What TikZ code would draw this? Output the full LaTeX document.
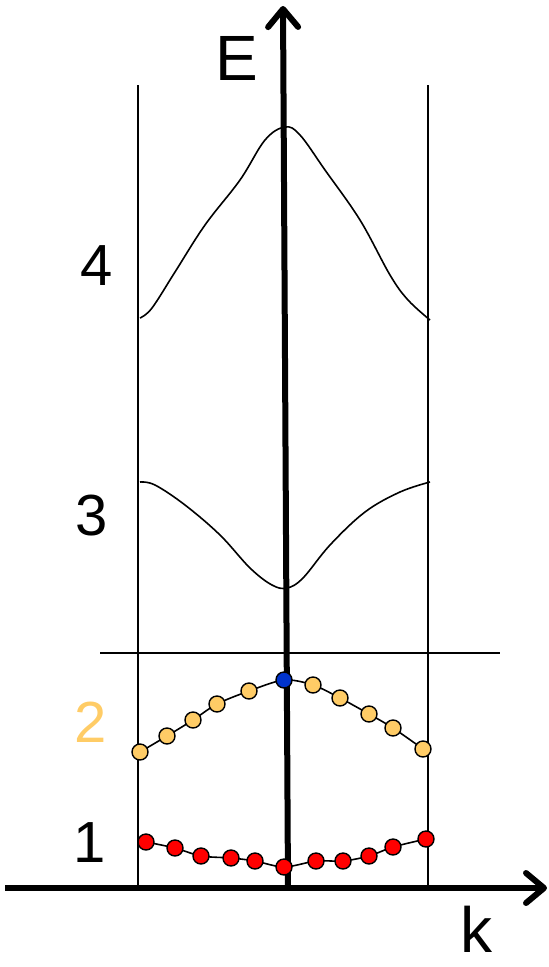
\documentclass[tikz,border=0pt]{standalone}
\usepackage{fontspec}
\setmainfont{Liberation Sans}
\usetikzlibrary{arrows.meta}

\definecolor{bandorange}{RGB}{255,204,102}
\definecolor{bandred}{RGB}{255,0,0}
\definecolor{bandblue}{RGB}{0,51,204}

\tikzset{
	axis/.style={line width=6pt, -{Straight Barb[length=18pt,width=30pt,line cap=round,line join=round]}},
	zone/.style={line width=1.6pt},
	band/.style={line width=1.6pt},
	state/.style={circle, draw=black, line width=1.4pt, fill=#1, minimum size=16pt, inner sep=0pt},
	bandlabel/.style={font=\fontsize{58}{60}\selectfont, inner sep=0pt, anchor=base},
	axislabel/.style={font=\fontsize{64}{70}\selectfont, inner sep=0pt, anchor=base}
}

\begin{document}
\begin{tikzpicture}[x=1pt,y=-1pt]
	\useasboundingbox (0,0) rectangle (549,967);
	
	% Brillouin zone edges and gap line
	\draw[zone] (138,85) -- (138,888);
	\draw[zone] (428,85) -- (428,888);
	\draw[zone] (100,653) -- (500,653);
	
	% upper bands
	\draw[band] plot[smooth, tension=0.6] coordinates {(140,318) (152,308) (175,272) (205,225) (240,180) (265,140) (285,127) (300,135) (325,170) (360,220) (390,275) (408,300) (430,320)};
	\draw[band] plot[smooth, tension=0.6] coordinates {(140,482) (155,485) (185,505) (220,535) (250,568) (272,585) (287,588) (303,578) (330,545) (365,512) (400,492) (430,482)};
	
	% axes
	\coordinate (korigin) at (5,888);
	\coordinate (kend) at (547,888);
	\coordinate (Eorigin) at (288,888);
	\coordinate (Eend) at (283,6);
	\draw[axis] (korigin) -- (kend);
	\draw[axis] (Eorigin) -- (Eend);
	\node[axislabel] (Elabel) at (237,80) {E};
	\node[axislabel] (klabel) at (476,952) {k};
	
	% band 2 states
	\foreach \x/\y [count=\i] in {140/752, 167/736, 193/720, 217/704, 249/691, 284/680, 313/685, 340/698, 369/714, 393/728, 423/749} {
		\coordinate (b2-\i) at (\x,\y);
	}
	\draw[band] plot[smooth, tension=0.5] coordinates {(b2-1) (b2-2) (b2-3) (b2-4) (b2-5) (b2-6) (b2-7) (b2-8) (b2-9) (b2-10) (b2-11)};
	\foreach \i in {1,...,5,7,8,...,11} {
		\node[state=bandorange] (s2-\i) at (b2-\i) {};
	}
	\node[state=bandblue] (s2-6) at (b2-6) {};
	
	% band 1 states
	\foreach \x/\y [count=\i] in {146/842, 175/848, 201/856, 231/858, 255/861, 284/867, 316/861, 343/861, 369/856, 393/847, 426/839} {
		\coordinate (b1-\i) at (\x,\y);
	}
	\draw[band] plot[smooth, tension=0.5] coordinates {(b1-1) (b1-2) (b1-3) (b1-4) (b1-5) (b1-6) (b1-7) (b1-8) (b1-9) (b1-10) (b1-11)};
	\foreach \i in {1,...,11} {
		\node[state=bandred] (s1-\i) at (b1-\i) {};
	}
	
	% band numbers
	\node[bandlabel] (n4) at (97,285) {4};
	\node[bandlabel] (n3) at (92,535) {3};
	\node[bandlabel, text=bandorange] (n2) at (91,742) {2};
	\node[bandlabel] (n1) at (90,862) {1};
\end{tikzpicture}
\end{document}
